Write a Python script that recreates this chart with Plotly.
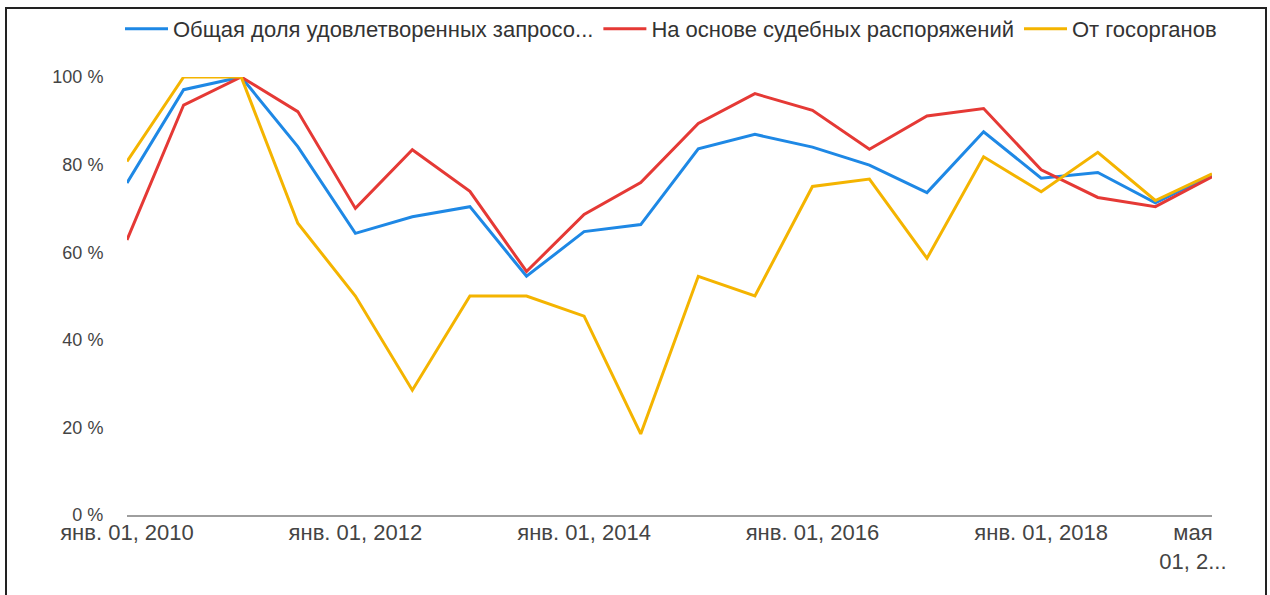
import plotly.graph_objects as go

dates = ["2010-01-01", "2010-07-01", "2011-01-01", "2011-07-01", "2012-01-01",
         "2012-07-01", "2013-01-01", "2013-07-01", "2014-01-01", "2014-07-01",
         "2015-01-01", "2015-07-01", "2016-01-01", "2016-07-01", "2017-01-01",
         "2017-07-01", "2018-01-01", "2018-07-01", "2019-01-01", "2019-07-01"]

total = [75.8, 97.1, 100, 84.1, 64.3, 68.1, 70.4, 54.5, 64.7, 66.3,
         83.6, 86.9, 84.0, 79.9, 73.6, 87.5, 76.9, 78.2, 71.3, 77.6]
court = [62.8, 93.6, 100, 92.1, 70.0, 83.4, 73.9, 55.6, 68.6, 75.9,
         89.4, 96.2, 92.4, 83.5, 91.1, 92.8, 78.8, 72.5, 70.4, 77.2]
gov = [80.7, 100, 100, 66.6, 50.0, 28.5, 50.0, 50.0, 45.4, 18.5,
       54.5, 50.0, 75.0, 76.7, 58.6, 81.8, 73.8, 82.8, 71.8, 77.9]

series_names = ["Общая доля удовлетворенных запросо...",
                "На основе судебных распоряжений",
                "От госорганов"]
series_colors = ["#1e88e5", "#e53935", "#f4b400"]

tick_vals = ["2010-01-01", "2012-01-01", "2014-01-01", "2016-01-01",
             "2018-01-01", "2019-05-01"]
tick_text = ["янв. 01, 2010", "янв. 01, 2012", "янв. 01, 2014",
             "янв. 01, 2016", "янв. 01, 2018", "мая<br>01, 2..."]
y_ticks = [0, 20, 40, 60, 80, 100]
y_text = ["0 %", "20 %", "40 %", "60 %", "80 %", "100 %"]

W, H = 1270, 595
ML, MR, MT, MB = 127, 58, 77, 80
PW, PH = W - ML - MR, H - MT - MB
FONT = "Liberation Sans, Arial, sans-serif"

fig = go.Figure()
for vals, name, col in zip([total, court, gov], series_names, series_colors):
    fig.add_trace(go.Scatter(x=dates, y=vals, mode="lines", name=name,
                             line=dict(color=col, width=3),
                             cliponaxis=False))

def px_x(p):
    return (p - ML) / PW

def px_y(p):
    return (H - MB - p) / PH

fig.update_layout(
    width=W, height=H,
    margin=dict(l=ML, r=MR, t=MT, b=MB, autoexpand=False),
    paper_bgcolor="white", plot_bgcolor="white",
    font=dict(family=FONT, size=22, color="#444"),
    showlegend=True,
    legend=dict(orientation="h", x=px_x(120), xanchor="left",
                y=px_y(29), yanchor="middle", itemwidth=43,
                font=dict(family=FONT, size=22, color="#333"),
                bgcolor="rgba(0,0,0,0)", tracegroupgap=0),
    xaxis=dict(type="date", range=["2010-01-01", "2019-07-01"],
               tickmode="array", tickvals=tick_vals, ticktext=tick_text,
               showgrid=False, zeroline=False, showline=True,
               linecolor="#9e9e9e", linewidth=2, ticks="",
               ticklabelstandoff=-3,
               tickfont=dict(family=FONT, size=22, color="#444")),
    yaxis=dict(range=[0, 100], tickmode="array", tickvals=y_ticks,
               ticktext=y_text, showgrid=False, zeroline=False,
               showline=False, ticks="outside", ticklen=19,
               tickcolor="rgba(0,0,0,0)",
               tickfont=dict(family=FONT, size=18, color="#444")),
    shapes=[dict(type="rect", xref="paper", yref="paper",
                 x0=px_x(6), x1=px_x(1266), y0=px_y(600), y1=px_y(8),
                 line=dict(color="#222", width=2),
                 fillcolor="rgba(0,0,0,0)", layer="above")],
)

fig.write_html("out.html", config={"displayModeBar": False},
               post_script="document.body.style.margin='0px';"
                           "document.body.style.overflow='hidden';"
                           "document.documentElement.style.overflow='hidden';")
